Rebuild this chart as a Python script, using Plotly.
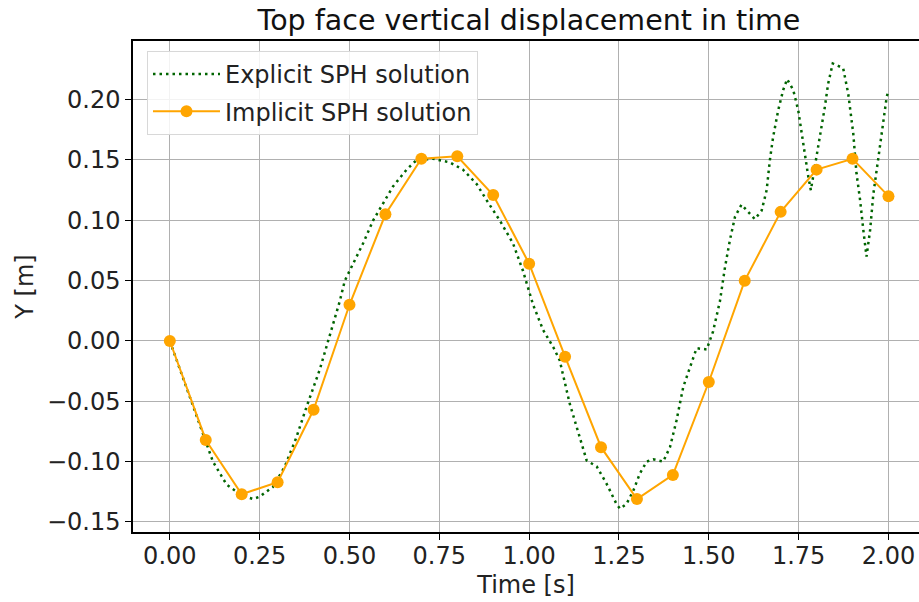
import plotly.graph_objects as go

# Implicit SPH solution (sampled every 0.1 s)
implicit_t = [0.0, 0.1, 0.2, 0.3, 0.4, 0.5, 0.6, 0.7, 0.8, 0.9, 1.0,
              1.1, 1.2, 1.3, 1.4, 1.5, 1.6, 1.7, 1.8, 1.9, 2.0]
implicit_y = [0.000, -0.082, -0.127, -0.117, -0.057, 0.030, 0.105, 0.151, 0.153, 0.121, 0.064,
              -0.013, -0.088, -0.131, -0.111, -0.034, 0.050, 0.107, 0.142, 0.151, 0.120]

# Explicit SPH solution
explicit_t = [0.000, 0.050, 0.100, 0.120, 0.158, 0.200, 0.232, 0.250, 0.287, 0.320,
              0.352, 0.380, 0.417, 0.445, 0.473, 0.487, 0.510, 0.538, 0.566, 0.594,
              0.621, 0.659, 0.687, 0.733, 0.779, 0.816, 0.854, 0.881, 0.918, 0.955,
              0.983, 1.011, 1.039, 1.067, 1.085, 1.113, 1.132, 1.150, 1.160, 1.188,
              1.215, 1.243, 1.253, 1.271, 1.290, 1.308, 1.327, 1.345, 1.373, 1.392,
              1.410, 1.429, 1.447, 1.466, 1.494, 1.512, 1.531, 1.545, 1.559, 1.573,
              1.591, 1.610, 1.628, 1.647, 1.661, 1.670, 1.679, 1.693, 1.707, 1.718,
              1.735, 1.749, 1.758, 1.768, 1.777, 1.784, 1.795, 1.809, 1.823, 1.832,
              1.845, 1.860, 1.874, 1.888, 1.902, 1.911, 1.921, 1.930, 1.939, 1.949,
              1.958, 1.972, 1.984, 1.995, 2.000]
explicit_y = [0.000, -0.042, -0.085, -0.100, -0.119, -0.128, -0.131, -0.129, -0.121, -0.104,
              -0.080, -0.055, -0.024, 0.004, 0.033, 0.050, 0.064, 0.081, 0.100, 0.114,
              0.128, 0.142, 0.150, 0.151, 0.148, 0.142, 0.130, 0.117, 0.100, 0.081,
              0.058, 0.030, 0.009, -0.005, -0.016, -0.052, -0.071, -0.091, -0.099, -0.104,
              -0.118, -0.135, -0.139, -0.135, -0.124, -0.110, -0.100, -0.098, -0.100, -0.088,
              -0.066, -0.038, -0.022, -0.006, -0.007, 0.008, 0.033, 0.061, 0.084, 0.103,
              0.113, 0.107, 0.101, 0.108, 0.125, 0.150, 0.169, 0.191, 0.208, 0.217,
              0.208, 0.191, 0.172, 0.153, 0.136, 0.125, 0.144, 0.169, 0.194, 0.213,
              0.230, 0.228, 0.226, 0.205, 0.172, 0.139, 0.117, 0.092, 0.070, 0.092,
              0.122, 0.152, 0.180, 0.202, 0.208]

x_ticks = [0.0, 0.25, 0.5, 0.75, 1.0, 1.25, 1.5, 1.75, 2.0]
x_tick_labels = ["0.00", "0.25", "0.50", "0.75", "1.00", "1.25", "1.50", "1.75", "2.00"]
y_ticks = [-0.15, -0.10, -0.05, 0.00, 0.05, 0.10, 0.15, 0.20]
y_tick_labels = ["\u22120.15", "\u22120.10", "\u22120.05", "0.00", "0.05", "0.10", "0.15", "0.20"]

FONT = "DejaVu Sans"

fig = go.Figure()
fig.add_trace(go.Scatter(
    x=explicit_t, y=explicit_y, mode="lines", name="Explicit SPH solution",
    legendgroup="a",
    line=dict(color="#006400", width=2.5, dash="2.5px,4px"),
))
fig.add_trace(go.Scatter(
    x=implicit_t, y=implicit_y, mode="lines+markers", name="Implicit SPH solution",
    legendgroup="b",
    line=dict(color="#FFA500", width=2),
    marker=dict(color="#FFA500", size=12),
))

fig.update_layout(
    width=919, height=602,
    margin=dict(l=133, r=0, t=41, b=70),
    paper_bgcolor="white", plot_bgcolor="white",
    font=dict(family=FONT, size=24, color="#222222"),
    title=dict(text="Top face vertical displacement in time",
               x=529 / 919, xref="container", xanchor="center",
               y=1 - 20 / 602, yref="container", yanchor="middle",
               font=dict(family=FONT, size=28.5, color="#111111")),
    showlegend=True,
    legend=dict(x=0.0178, y=0.9796, xanchor="left", yanchor="top",
                bgcolor="rgba(255,255,255,0.85)", bordercolor="#d8d8d8", borderwidth=1,
                font=dict(family=FONT, size=24, color="#222222"),
                tracegroupgap=3, itemwidth=67),
)
fig.update_xaxes(
    range=[-0.1025, 2.085], tickvals=x_ticks, ticktext=x_tick_labels,
    automargin=False, ticklabelstandoff=-5,
    showgrid=True, gridcolor="#b0b0b0", gridwidth=1.2,
    showline=True, linecolor="black", linewidth=1.5, mirror=True,
    ticks="outside", ticklen=6, tickwidth=1.3, tickcolor="black",
    zeroline=False,
    title=dict(text="Time [s]", standoff=8, font=dict(family=FONT, size=24)),
)
fig.update_yaxes(
    range=[-0.1583, 0.2486], tickvals=y_ticks, ticktext=y_tick_labels,
    automargin=False,
    showgrid=True, gridcolor="#b0b0b0", gridwidth=1.2,
    showline=True, linecolor="black", linewidth=1.5, mirror=False,
    ticks="outside", ticklen=6, tickwidth=1.3, tickcolor="black",
    zeroline=False,
    title=dict(text="Y [m]", standoff=7, font=dict(family=FONT, size=24)),
)

# remove the browser's default 8px page margin so the figure fills the window
fig.write_html("out.html",
               config={"displayModeBar": False},
               post_script="document.body.style.margin='0';document.body.style.overflow='hidden';")
